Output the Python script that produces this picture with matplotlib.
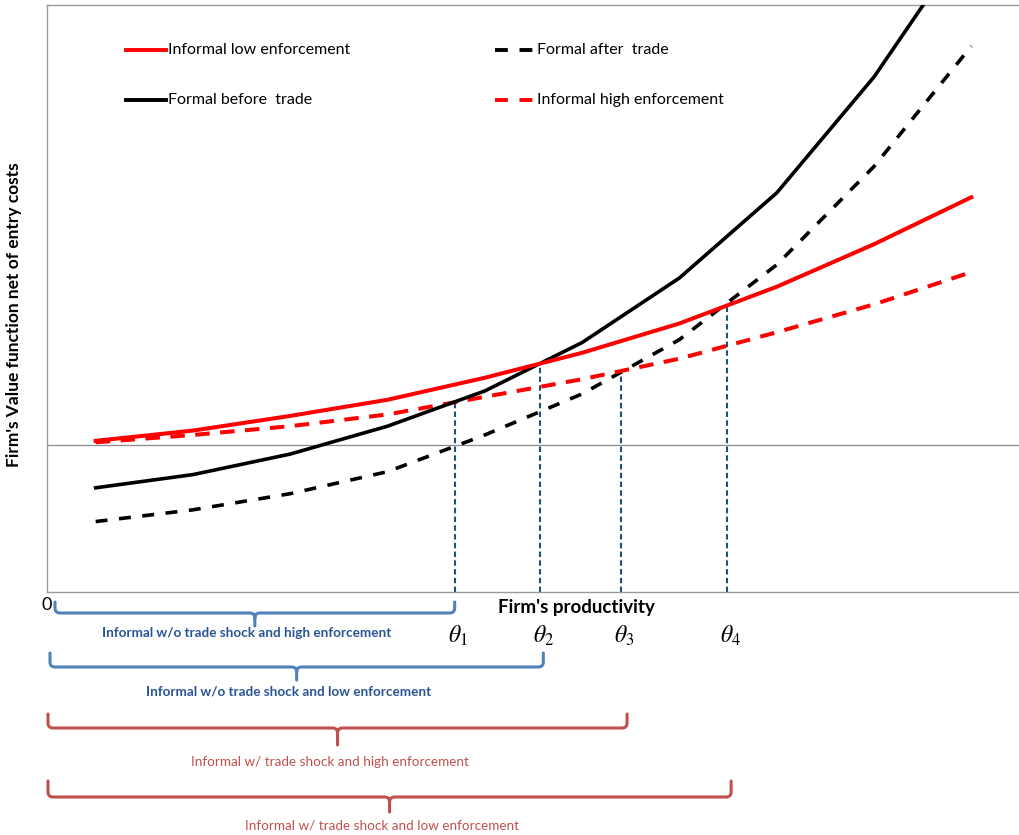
import numpy as np
import matplotlib
matplotlib.use("Agg")
import matplotlib.pyplot as plt
from matplotlib.path import Path
from matplotlib.patches import PathPatch

# ---- data ----
x = np.arange(10) + 0.5
informal_low = [0.03, 0.10, 0.20, 0.31, 0.46, 0.63, 0.83, 1.08, 1.37, 1.69]
informal_high = [0.02, 0.07, 0.13, 0.21, 0.33, 0.45, 0.59, 0.77, 0.96, 1.18]
formal_before = [-0.29, -0.20, -0.06, 0.13, 0.37, 0.70, 1.14, 1.72, 2.51, 3.48]
formal_after = [-0.52, -0.44, -0.33, -0.18, 0.07, 0.35, 0.72, 1.23, 1.90, 2.72]

thetas = [4.19, 5.07, 5.90, 6.99]
theta_curves = ["informal_high", "informal_low", "informal_high", "informal_low"]
theta_labels = [r"$\theta_1$", r"$\theta_2$", r"$\theta_3$", r"$\theta_4$"]

brace_labels = ["Informal w/o trade shock and high enforcement",
                "Informal w/o trade shock and low enforcement",
                "Informal w/ trade shock and high enforcement",
                "Informal w/ trade shock and low enforcement"]

series = {"informal_low": informal_low, "informal_high": informal_high,
          "formal_before": formal_before, "formal_after": formal_after}

plt.rcParams["font.family"] = ["Lato", "DejaVu Sans"]
plt.rcParams["mathtext.fontset"] = "stix"

W, H = 1020, 835
fig = plt.figure(figsize=(W / 100, H / 100), dpi=100)
ax = fig.add_axes([47 / W, 1 - 592 / H, 1 - 47 / W, (592 - 5) / H])
ax.set_xlim(0, 10)
ax.set_ylim(-1, 3)

RED = "#ff0000"
lw_main = 2.6
ax.axhline(0, color="#8c8c8c", lw=0.9, zorder=1)
ax.plot(x, formal_after, color="black", lw=lw_main, ls=(0, (3.3, 3.2)), zorder=3)
ax.plot(x, informal_high, color=RED, lw=lw_main + 0.3, ls=(0, (3.6, 2.6)), zorder=3)
ax.plot(x, formal_before, color="black", lw=lw_main, zorder=4)
ax.plot(x, informal_low, color=RED, lw=lw_main + 0.3, zorder=4)

# theta cut-offs
for t, c in zip(thetas, theta_curves):
    top = np.interp(t, x, series[c])
    ax.plot([t, t], [-1, top], color="#1f4e86", lw=1.5, ls=(0, (2.6, 1.6)), zorder=2)

for s in ["left", "bottom", "top"]:
    ax.spines[s].set_color("#9a9a9a")
    ax.spines[s].set_linewidth(1.0)
ax.spines["right"].set_visible(False)
ax.set_xticks([])
ax.set_yticks([])

# overlay in pixel coordinates for legend, labels and braces
ov = fig.add_axes([0, 0, 1, 1], zorder=5)
ov.set_xlim(0, W)
ov.set_ylim(H, 0)
ov.axis("off")
ov.patch.set_alpha(0)


def px(v):
    return ax.transData.transform((v, 0))[0]


# legend
leg = [("Informal low enforcement", RED, "-", 126, 50),
       ("Formal before  trade", "black", "-", 126, 100),
       ("Formal after  trade", "black", (0, (3.3, 3.0)), 495, 50),
       ("Informal high enforcement", RED, (0, (3.3, 3.0)), 495, 100)]
for lab, col, ls, x0, y0 in leg:
    ov.plot([x0, x0 + 40], [y0, y0], color=col, lw=2.8, ls=ls)
    ov.text(x0 + 42, y0, lab, fontsize=11.5, va="center", ha="left")

ov.text(14, 315, "Firm's Value function net of entry costs", rotation=90,
        fontsize=12.5, fontweight="bold", ha="center", va="center")
ov.text(576, 607, "Firm's productivity", fontsize=13.5, fontweight="bold",
        ha="center", va="center")
ov.text(47, 605, "0", fontsize=13, ha="center", va="center")
for t, lab in zip(thetas, theta_labels):
    ov.text(px(t) + 3, 636, lab, fontsize=17, ha="center", va="center")


def brace(x0, x1, ytop, ybar, ytip, color):
    r = 5
    xm = (x0 + x1) / 2
    verts = [(x0, ytop), (x0, ybar - r), (x0, ybar), (x0 + r, ybar),
             (xm - r, ybar), (xm, ybar), (xm, ybar + r), (xm, ytip),
             (xm, ybar + r), (xm, ybar), (xm + r, ybar),
             (x1 - r, ybar), (x1, ybar), (x1, ybar - r), (x1, ytop)]
    codes = [Path.MOVETO, Path.LINETO, Path.CURVE3, Path.CURVE3,
             Path.LINETO, Path.CURVE3, Path.CURVE3, Path.LINETO,
             Path.MOVETO, Path.CURVE3, Path.CURVE3,
             Path.LINETO, Path.CURVE3, Path.CURVE3, Path.LINETO]
    ov.add_patch(PathPatch(Path(verts, codes), fill=False, edgecolor=color,
                           lw=2.2, capstyle="round", joinstyle="round"))


BLUE_B, BLUE_T = "#4f81bd", "#2a5595"
RED_B = "#c0504d"
braces = [(55, px(thetas[0]), 602, 613, 626, 633, BLUE_B, BLUE_T, "bold"),
          (50, px(thetas[1]) + 3, 653, 667, 680, 692, BLUE_B, BLUE_T, "bold"),
          (48, px(thetas[2]) + 6, 714, 728, 745, 762, RED_B, RED_B, "normal"),
          (48, px(thetas[3]) + 4, 781, 797, 812, 825, RED_B, RED_B, "normal")]
for (x0, x1, yt, yb, yp, ytx, bc, tc, fw), lab in zip(braces, brace_labels):
    brace(x0, x1, yt, yb, yp, bc)
    ov.text((x0 + x1) / 2 - 8, ytx, lab, fontsize=9.7, color=tc,
            fontweight=fw, ha="center", va="center")

fig.savefig("out.png", dpi=100)
